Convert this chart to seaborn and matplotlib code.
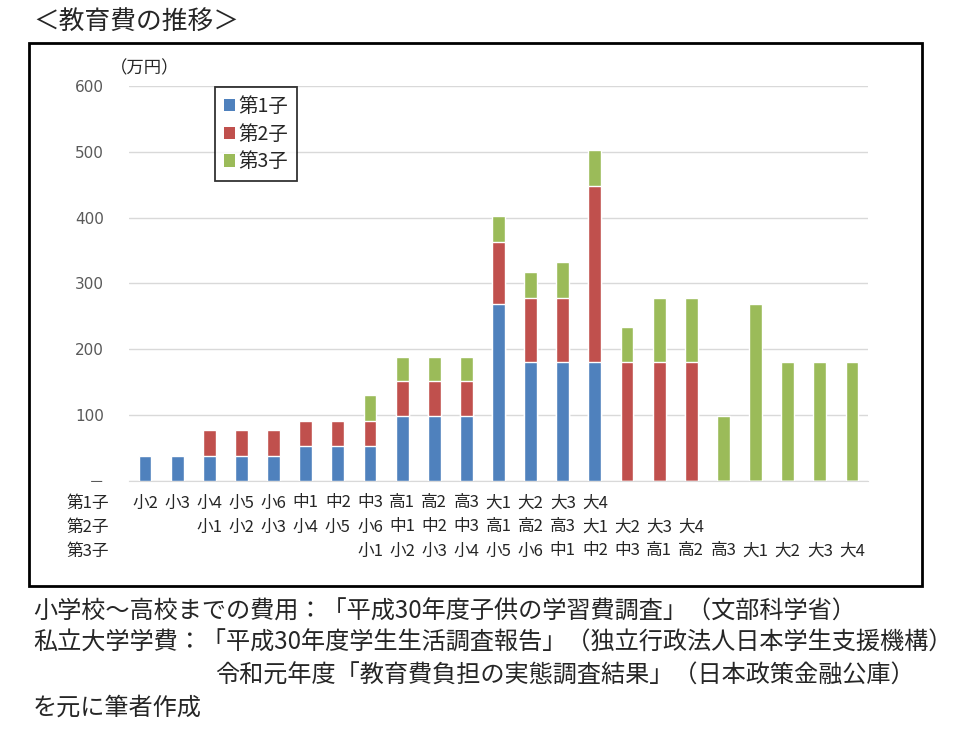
import pandas as pd
import matplotlib.pyplot as plt
import seaborn as sns
from matplotlib.patches import Patch, Rectangle
from matplotlib.transforms import blended_transform_factory

# grade names used for the x labels
grades = ['小1', '小2', '小3', '小4', '小5', '小6', '中1', '中2', '中3',
          '高1', '高2', '高3', '大1', '大2', '大3', '大4']

# labels under the bars, one row per child, and the column each row starts in
child1_labels = grades[1:]
child2_labels = grades
child3_labels = grades
label_start = [0, 2, 7]

# yearly cost per child (万円), one value per column
child1 = [37, 37, 37, 37, 37, 53, 53, 53, 98, 98, 98, 269, 180, 180, 180,
          0, 0, 0, 0, 0, 0, 0, 0]
child2 = [0, 0, 40, 40, 40, 37, 37, 37, 53, 53, 53, 94, 97, 97, 268, 180, 180, 180,
          0, 0, 0, 0, 0]
child3 = [0, 0, 0, 0, 0, 0, 0, 40, 37, 37, 37, 40, 40, 55, 55, 54, 97, 97, 98,
          269, 180, 180, 180]

series_names = ['第1子', '第2子', '第3子']
colors = ['#4F81BD', '#C0504D', '#9BBB59']

sns.set_style('white')
fonts = ['Noto Sans CJK JP', 'DejaVu Sans']
plt.rcParams['font.family'] = fonts

df = pd.DataFrame({'col': [str(i) for i in range(len(child1))],
                   'c1': child1, 'c2': child2, 'c3': child3})
df['c12'] = df['c1'] + df['c2']
df['total'] = df['c12'] + df['c3']
order = list(df['col'])

W, H = 960, 741
fig = plt.figure(figsize=(W / 100, H / 100), dpi=100)
ax = fig.add_axes([129 / W, (H - 480.7) / H, 739 / W, 394.7 / H])

# stacked bars drawn as overlays, tallest first
for ycol, c in [('total', colors[2]), ('c12', colors[1]), ('c1', colors[0])]:
    sns.barplot(data=df, x='col', y=ycol, order=order, color=c, width=0.4,
                saturation=1, errorbar=None, ax=ax, zorder=3)

ax.set_ylim(0, 600)
ax.set_xlim(-0.5, len(order) - 0.5)
ax.set_yticks(range(0, 601, 100))
ax.set_yticklabels(['－'] + [str(v) for v in range(100, 601, 100)],
                   fontsize=11, color='#595959', family=['DejaVu Sans', 'Noto Sans CJK JP'])
ax.tick_params(axis='y', length=0, pad=18)
ax.tick_params(axis='x', length=0, labelbottom=False)
ax.set_xlabel('')
ax.set_ylabel('')
ax.yaxis.grid(True, color='#D9D9D9', lw=1, zorder=0)
for s in ['top', 'left', 'right']:
    ax.spines[s].set_visible(False)
ax.spines['bottom'].set_color('#D9D9D9')

# three rows of grade labels under the bars
tr = blended_transform_factory(ax.transData, fig.transFigure)
rows_y = [503, 527, 551]
for r, (labels, start) in enumerate(zip([child1_labels, child2_labels, child3_labels], label_start)):
    fig.text(66 / W, 1 - rows_y[r] / H, series_names[r], fontsize=12, va='center', ha='left')
    for i, lab in enumerate(labels):
        ax.text(start + i, 1 - rows_y[r] / H, lab, transform=tr, fontsize=12,
                ha='center', va='center', clip_on=False)

fig.text(110 / W, 1 - 68 / H, '（万円）', fontsize=12.5, va='center', ha='left')

handles = [Patch(facecolor=c, edgecolor='none') for c in colors]
leg = ax.legend(handles, series_names, loc='upper left',
                bbox_to_anchor=(215 / W, 1 - 87 / H), bbox_transform=fig.transFigure,
                fontsize=14, frameon=True, fancybox=False, edgecolor='black',
                borderaxespad=0, borderpad=0.45, handlelength=0.6, handleheight=0.6,
                handletextpad=0.15, labelspacing=0.35)
leg.get_frame().set_linewidth(1.3)

# outer frame around the chart
fig.patches.append(Rectangle((29 / W, 1 - 586 / H), (922 - 29) / W, (586 - 43) / H,
                             transform=fig.transFigure, fill=False,
                             edgecolor='black', lw=2))

fig.text(33 / W, 1 - 22 / H, '＜教育費の推移＞', fontsize=18.5, va='center', ha='left')

fig.text(33 / W, 1 - 612 / H, '小学校～高校までの費用：「平成30年度子供の学習費調査」（文部科学省）',
         fontsize=17.4, va='center', ha='left')
fig.text(33 / W, 1 - 643 / H, '私立大学学費：「平成30年度学生生活調査報告」（独立行政法人日本学生支援機構）',
         fontsize=17.4, va='center', ha='left')
fig.text(215 / W, 1 - 676 / H, '令和元年度「教育費負担の実態調査結果」（日本政策金融公庫）',
         fontsize=17.4, va='center', ha='left')
fig.text(33 / W, 1 - 708 / H, 'を元に筆者作成', fontsize=17.4, va='center', ha='left')

fig.savefig('out.png', dpi=100)
